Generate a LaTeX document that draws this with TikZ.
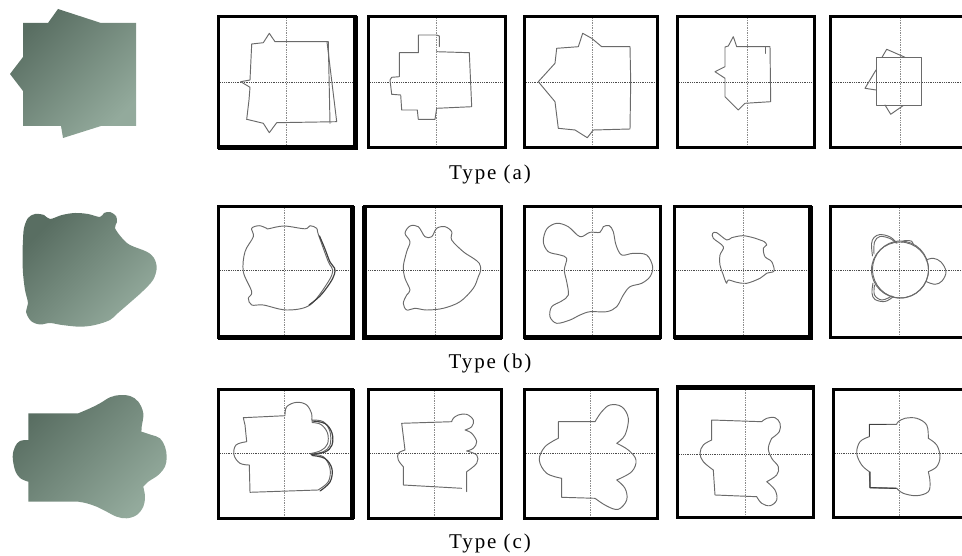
\documentclass[tikz,border=0pt]{standalone}
\usepackage{fontspec}
\newfontfamily\lblfont[LetterSpace=9]{Liberation Serif}
\definecolor{shapedark}{HTML}{596E62}
\definecolor{shapemid}{HTML}{667B6F}
\definecolor{shapelight}{HTML}{93AA9C}
\definecolor{penline}{HTML}{6A6A6A}
\tikzset{
  frame/.style={draw=black, line width=3.4pt},
  thickside/.style={draw=black, line width=5pt},
  axish/.style={draw=black!70, densely dotted, line width=0.8pt},
  axisv/.style={draw=black!45, densely dotted, line width=0.7pt},
  sketch/.style={draw=penline, line width=0.95pt, line join=round, line cap=round},
  sketchdark/.style={draw=black!75, line width=1.2pt, line join=round, line cap=round},
  solidshape/.style={top color=shapedark, middle color=shapemid, bottom color=shapelight, shading angle=45},
  caption/.style={font=\lblfont\fontsize{21}{24}\selectfont, anchor=base}
}
% one panel: left, top, right, bottom, vertical axis x, horizontal axis y
\newcommand{\panelbox}[6]{%
  \draw[axish] (#1,#6) -- (#3,#6);
  \draw[axisv] (#5,#2) -- (#5,#4);
  \draw[frame] (#1,#2) rectangle (#3,#4);
}
\begin{document}
\begin{tikzpicture}[x=1pt, y=-1pt]
\useasboundingbox (0,0) rectangle (962,556);
\clip (0,0) rectangle (962,556);

% ---------- reference solids ----------
\shade[solidshape] (23,23) -- (48,23) -- (58,9) -- (101,23) -- (136,23) -- (136,126)
  -- (101,126) -- (63,138) -- (61,126) -- (23,126) -- (23,91) -- (10,74) -- (23,57) -- cycle;

\shade[solidshape] plot[smooth cycle, tension=0.55] coordinates {
  (23,240) (24,228) (28,218) (35,214) (44,215) (50,219) (62,215) (75,213) (88,214)
  (100,217) (104,213) (110,212) (116,216) (117,222) (115,228) (122,238) (130,245)
  (146.7,251.7) (154,258) (156.7,268.3) (153,280) (143,291) (133,300) (118,313)
  (110,320) (95,325) (80,326.7) (62,325) (50,323) (40,324.5) (31,321) (26,311.7)
  (28,303.3) (25,290) (23,273) (22.5,255)};

\shade[solidshape] (28.3,413.3) -- (78.3,413.3)
  -- plot[smooth, tension=0.6] coordinates {(78.3,413.3) (90,408.3) (100,403.3) (110,397.3)
     (120,395) (130,396) (138.3,401.7) (143.3,413.3) (141.7,426.7) (141.5,431.7)}
  -- plot[smooth, tension=0.6] coordinates {(141.5,431.7) (151.7,435) (160,438.3) (165,446.7)
     (166.7,456.7) (165,466.7) (158.3,475) (148.3,481.7) (143.3,486.7)}
  -- plot[smooth, tension=0.6] coordinates {(143.3,486.7) (145,496.7) (143.3,506.7) (136.7,515)
     (126.7,518.3) (116.7,516.7) (106.7,511.7) (96.7,506.7) (86.7,503.3) (78.3,501.7)}
  -- (28.3,501.7) -- (28.3,481.7)
  -- plot[smooth, tension=0.6] coordinates {(28.3,481.7) (20,478) (15,470) (12.7,456.7)
     (15,446.7) (20,441) (28.3,440)}
  -- cycle;

% ---------- row (a) ----------
\panelbox{218.5}{16.5}{355.5}{147.5}{286}{82}
\panelbox{368.5}{16.5}{505.5}{147.5}{436}{82}
\panelbox{524.5}{16.5}{657.5}{147.5}{592}{82}
\panelbox{677.5}{16.5}{814.5}{147.5}{747}{82}
\panelbox{830.5}{16.5}{970}{147.5}{900}{82}
\draw[thickside] (355,16) -- (355,148) -- (218,148);

\draw[sketch] (246.7,119.3) -- (249,100) -- (250,87.3) -- (240.7,81.7) -- (250,80)
  -- (251.7,44) -- (263.3,42.7) -- (269.3,33.3) -- (275,41.7) -- (328.3,41.7) -- (330,123.3);
\draw[sketch] (327,42) -- (336.7,121.7) -- (276.7,122.7) -- (269.3,132.7) -- (263.3,123.3) -- (246.7,119.3);

\draw[sketch] (418.3,52.7) -- (418.3,35) -- (436.7,35) -- (439.3,36) -- (439.3,46.7);
\draw[sketch] (436.7,51.7) -- (469.3,52.7) -- (471.7,106.7) -- (436.7,108.3) -- (435,119.3)
  -- (418.3,119.3) -- (417.3,110) -- (401.7,110) -- (400.7,95) -- (391.7,94.3) -- (390,80)
  -- (391.7,77.3) -- (399.3,76.7) -- (399.3,52.7) -- (418.3,52.7);

\draw[sketch] (578.3,46.7) -- (582.7,33.3) -- (591.7,38.3) -- (601.7,46.7) -- (630,46.7)
  -- (630.7,81.7) -- (630,129) -- (593.3,130) -- (587.3,137.7) -- (575,130) -- (558.3,128.3)
  -- (555,101.7) -- (538.3,81.7) -- (555,63.3) -- (556.7,48.3) -- cycle;

\draw[sketch] (728.3,46) -- (733.3,36.7) -- (736.7,46.7) -- (770,46.7) -- (770.7,101.7)
  -- (745,103.3) -- (738.3,110) -- (725,96.7) -- (725,78.3) -- (715,71.7) -- (725,66.7)
  -- (725,47) -- cycle;
\draw[sketch] (765.3,47.3) -- (765.3,53.3);

\draw[sketch] (876,57.3) rectangle (921.7,105);
\draw[sketch] (882,57.3) -- (886.7,49.3) -- (905,57.3);
\draw[sketch] (876,70) -- (865,88.3) -- (876,90);
\draw[sketch] (885,105) -- (890.7,114.3) -- (903.3,105.5);

\node[caption] (capa) at (490,180) {Type (a)};

% ---------- row (b) ----------
\panelbox{218.5}{206.5}{352.5}{337.5}{284}{270}
\panelbox{364.5}{206.5}{501.5}{337.5}{435}{270}
\panelbox{524.5}{206.5}{660.5}{337.5}{592}{270}
\panelbox{674.5}{206.5}{810.5}{337.5}{743}{270}
\panelbox{830.5}{206.5}{970}{337.5}{899}{270}
\draw[thickside] (352,206) -- (352,338) -- (218,338);
\draw[thickside] (364,206) -- (364,338) -- (502,338);
\draw[thickside] (524,338) -- (661,338);
\draw[thickside] (810,206) -- (810,338) -- (674,338);

\draw[sketch] plot[smooth cycle, tension=0.55] coordinates {
  (253.3,236.7) (251.7,228.3) (259.3,225.7) (266.7,228.3) (268.3,228.8) (284,226) (305,228.8)
  (310,225.7) (316.7,228.3) (318.3,234.3) (328.3,261.7) (332.7,270) (328.3,281.7) (310,305)
  (286.7,310) (263.3,305) (251.7,305) (248.3,298.3) (251.7,291.7) (243.3,271.7) (245,251.7)};
\draw[sketchdark] plot[smooth, tension=0.6] coordinates {(319.5,236) (325,249) (330,262)
  (334.5,268) (334.5,274) (330,283) (320,296) (309,305)};

\draw[sketch] plot[smooth cycle, tension=0.55] coordinates {
  (410,241.7) (405,233.3) (410,226) (418.3,226.7) (425,236.7) (431.7,236.7) (436.7,228.3)
  (445,226.7) (451.7,231.7) (451.7,240) (463.3,251.7) (473.3,258.3) (479.3,263.3)
  (480.7,270) (478.3,276.7) (473.3,288.3) (460,301.7) (443.3,308.3) (426.7,310) (415,308.3)
  (406.7,310) (403.3,303.3) (406.7,295) (410,290) (405,278.3) (403.3,266.7) (406.7,251.7)};

\draw[sketch] plot[smooth cycle, tension=0.55] coordinates {
  (543.3,241.7) (546.7,229) (556.7,223.3) (568.3,226.7) (580,236.7) (590,232.3)
  (600,232.3) (603.3,226.7) (609.3,225.7) (613.3,231.7) (616,245) (621.7,255) (633.3,253.3)
  (646.7,255) (652.7,266.7) (650,276.7) (641.7,283.3) (630,286.7) (623.3,295) (616.7,306.7)
  (606.7,311.7) (590,311.7) (580,315) (570,320) (556.7,323.3) (550,316.7) (551.7,306.7)
  (561.7,301) (568.3,295) (566.7,281.7) (564.3,270) (566.7,258.3) (560,255) (548.3,251.7)};

\draw[sketch] plot[smooth cycle, tension=0.55] coordinates {
  (723.3,246.7) (713.3,238.3) (712.7,233.3) (716.7,232.7) (726.7,240) (731.7,237.7)
  (742.7,235.7) (753.3,237.7) (760,240) (764.3,241.7) (766.7,245) (763.3,248.3) (765,256.7)
  (771.7,261.7) (774,271) (766.7,273.3) (760,278.3) (746.7,283.3) (736.7,282.3) (728.3,280)
  (726.7,283.3) (725,280) (723.3,275) (720,265) (720,255)};

\draw[sketch] (900,270) ellipse [x radius=28.5, y radius=28];
\draw[sketch] (900.5,269.5) ellipse [x radius=28, y radius=28.5];
\draw[sketch] plot[smooth, tension=0.6] coordinates {(926,260) (933.3,258.3) (941,262)
  (946,271.7) (942,281) (935,284.3) (926,281.5)};
\draw[sketch] plot[smooth, tension=0.6] coordinates {(872.5,256) (871.5,244) (874,237.5)
  (880,234.5) (888,236) (893,239) (897,243.3)};
\draw[sketch] plot[smooth, tension=0.6] coordinates {(874,254) (874.5,242) (880,236.5)
  (890,238.5) (896,243)};
\draw[sketch] plot[smooth, tension=0.6] coordinates {(901.7,242.3) (905,240.5) (911.7,241.2)
  (913.3,245)};
\draw[sketch] plot[smooth, tension=0.6] coordinates {(873,283) (872,293) (875,299.5)
  (885,301.5) (893.3,296.7)};
\draw[sketch] plot[smooth, tension=0.6] coordinates {(874.5,285) (874.5,295) (882,300)
  (892,296)};

\node[caption] (capb) at (490,368) {Type (b)};

% ---------- row (c) ----------
\panelbox{218.5}{389.5}{352.5}{518.5}{284}{453}
\panelbox{368.5}{389.5}{501.5}{518.5}{434}{453}
\panelbox{524.5}{389.5}{657.5}{518.5}{590}{453}
\panelbox{677.5}{386.5}{813.5}{517.5}{745}{454}
\panelbox{833.5}{389.5}{972}{517.5}{899}{453}
\draw[thickside] (352,389) -- (352,519);
\draw[thickside] (677,387) -- (814,387);

\draw[sketch] (245,425) -- (243.3,417.7) -- (285,415.7)
  -- plot[smooth, tension=0.6] coordinates {(285,415.7) (286.7,406.7) (296.7,402.3)
     (306.7,405) (311.7,414) (311.7,420)}
  -- plot[smooth, tension=0.6] coordinates {(311.7,420) (323.3,421.7) (330,431.7) (330,445)
     (323.3,451.7) (311.7,454.3)}
  -- plot[smooth, tension=0.6] coordinates {(311.7,454.3) (323.3,456.7) (330,468.3)
     (328.3,481.7) (318,490)}
  -- (250,492.3) -- (249.3,465)
  -- plot[smooth, tension=0.6] coordinates {(249.3,465) (240,463.3) (234,455) (236,445)
     (246.7,441.7)}
  -- (245,425);
\draw[sketchdark] plot[smooth, tension=0.6] coordinates {(312,421) (325,423.5) (332,433)
  (332,445) (325,452) (311,454.3)};
\draw[sketch] plot[smooth, tension=0.6] coordinates {(312,422.5) (321,424.5) (327.5,433)
  (327.5,444) (321,450.5) (311,453.5)};
\draw[sketchdark] plot[smooth, tension=0.6] coordinates {(312,455.5) (325,458.5) (332,469)
  (330,482) (320,491)};

\draw[sketch] (401.7,423.3) -- (451.7,421.7)
  -- plot[smooth, tension=0.6] coordinates {(451.7,421.7) (453.3,418.3) (458.3,415)
     (466.7,414.3) (473.3,420) (471.7,426.7) (465,430)}
  -- plot[smooth, tension=0.6] coordinates {(465,430) (471.7,433.3) (476.7,441.7)
     (473.3,448.3) (466.7,451)}
  -- plot[smooth, tension=0.6] coordinates {(466.7,451) (476.7,455) (476.7,463.3)
     (466.7,471.7)}
  -- (466.7,491.7);
\draw[sketch] (461.7,488.3) -- (403.3,485) -- (403.3,466.7)
  -- plot[smooth, tension=0.6] coordinates {(403.3,466.7) (398.3,460) (398.3,453.3) (405,450)}
  -- (401.7,423.3);

\draw[sketch] (558.3,421.7) -- (595,421.7)
  -- plot[smooth, tension=0.6] coordinates {(595,421.7) (601.7,411.7) (610,405) (621.7,406.7)
     (628.3,418.3) (625,435) (616.7,443.3)}
  -- plot[smooth, tension=0.6] coordinates {(616.7,443.3) (628.3,450) (636,460) (631.7,471.7)
     (616.7,480)}
  -- plot[smooth, tension=0.6] coordinates {(616.7,480) (625,488.3) (626.7,500) (618.3,509.3)
     (606.7,506) (595,498.3)}
  -- (561.7,497.3) -- (561.7,478.3)
  -- plot[smooth, tension=0.6] coordinates {(561.7,478.3) (546.7,473.3) (539.3,460)
     (545,446.7) (558.3,438.3)}
  -- cycle;

\draw[sketch] (711.7,420) -- (761.7,421.7)
  -- plot[smooth, tension=0.6] coordinates {(761.7,421.7) (766.7,418.3) (775,417.7)
     (780,423.3) (779.3,431.7) (771.7,438.3)}
  -- plot[smooth, tension=0.6] coordinates {(771.7,438.3) (768.3,448.3) (771.7,458.3)
     (778.3,466.7) (776.7,475) (766.7,481.7)}
  -- plot[smooth, tension=0.6] coordinates {(766.7,481.7) (775,490) (776.7,500) (770,505.7)
     (761.7,503.3) (756.7,496.7)}
  -- (715,495) -- (713.3,470)
  -- plot[smooth, tension=0.6] coordinates {(713.3,470) (703.3,461.7) (700,453.3)
     (703.3,445) (711.7,440)}
  -- cycle;

\draw[sketch] (869.3,436.7) -- (869.3,424.3) -- (896.7,424.3)
  -- plot[smooth, tension=0.6] coordinates {(896.7,424.3) (898.3,421.7) (905,418.3)
     (916.7,418.3) (926.7,425) (928.3,438.3)}
  -- plot[smooth, tension=0.6] coordinates {(928.3,438.3) (936.7,445) (940,456.7)
     (936.7,466.7) (928.3,471.7)}
  -- plot[smooth, tension=0.6] coordinates {(928.3,471.7) (930,481.7) (928.3,491.7)
     (916.7,495.7) (903.3,493.3) (896.7,488.3)}
  -- (870,487.7) -- (869.3,471.7)
  -- plot[smooth, tension=0.6] coordinates {(869.3,471.7) (861.7,465) (856.7,453.3)
     (860,441.7) (869.3,436.7)};
\draw[sketchdark] (869.3,436) -- (869.3,424.3) -- (886,424.3);
\draw[sketchdark] (870,472) -- (870,487.7) -- (896,488.3);

\node[caption] (capc) at (490,548) {Type (c)};
\end{tikzpicture}
\end{document}
